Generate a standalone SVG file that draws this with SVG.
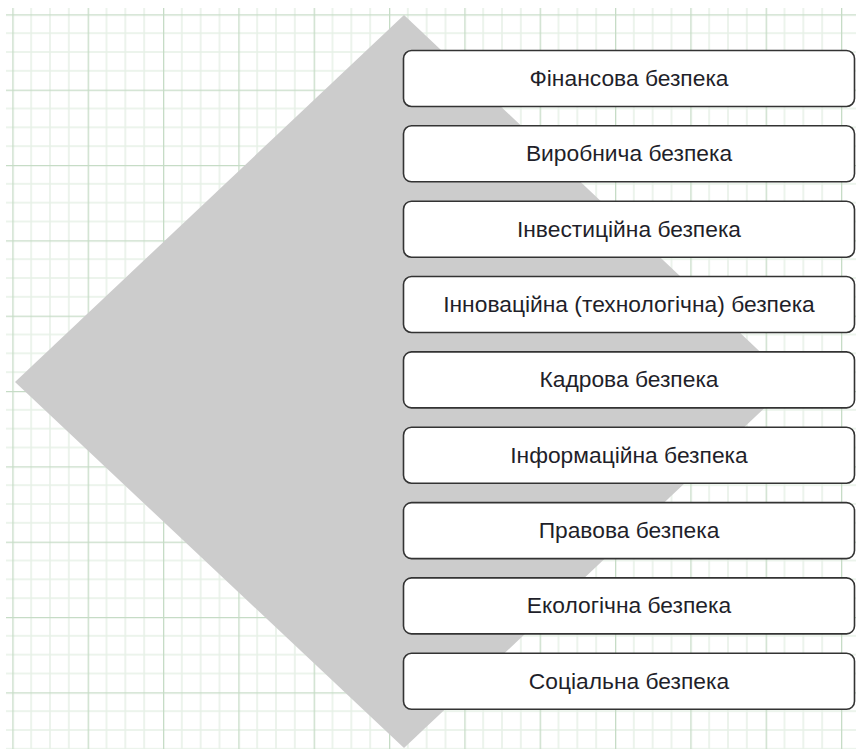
<svg xmlns="http://www.w3.org/2000/svg" width="856" height="749" viewBox="0 0 856 749">
  <style>
    .box rect { fill: #ffffff; stroke: #333333; stroke-width: 1.6; }
    .box text { font-family: "Liberation Sans", Arial, sans-serif; font-size: 22.8px; fill: #1f1f2a; text-anchor: middle; }
    .minor { stroke: #e6f0e6; stroke-width: 1.5; }
    .major { stroke: #c6dcc6; stroke-width: 1.6; }
  </style>
  <defs>
    <pattern id="grid" patternUnits="userSpaceOnUse" x="12.33" y="14.33" width="75.333" height="75.333">
      <line class="minor" x1="18.83" y1="0" x2="18.83" y2="75.333"/>
      <line class="minor" x1="37.67" y1="0" x2="37.67" y2="75.333"/>
      <line class="minor" x1="56.5" y1="0" x2="56.5" y2="75.333"/>
      <line class="minor" x1="0" y1="18.83" x2="75.333" y2="18.83"/>
      <line class="minor" x1="0" y1="37.67" x2="75.333" y2="37.67"/>
      <line class="minor" x1="0" y1="56.5" x2="75.333" y2="56.5"/>
      <line class="major" x1="0.5" y1="0" x2="0.5" y2="75.333"/>
      <line class="major" x1="0" y1="0.5" x2="75.333" y2="0.5"/>
    </pattern>
  </defs>
  <rect x="0" y="0" width="856" height="749" fill="#ffffff"/>
  <rect x="6" y="8" width="850" height="741" fill="url(#grid)"/>
  <polygon id="diamond" points="404,15 792,382 404,748 15,382" fill="#cccccc"/>
  <g id="connectors"></g>
  <g id="n1" class="box"><rect x="403.5" y="50.5" width="451" height="56" rx="8"/><text x="629" y="86">Фінансова безпека</text></g>
  <g id="n2" class="box"><rect x="403.5" y="125.8" width="451" height="56" rx="8"/><text x="629" y="161.3">Виробнича безпека</text></g>
  <g id="n3" class="box"><rect x="403.5" y="201.2" width="451" height="56" rx="8"/><text x="629" y="236.7">Інвестиційна безпека</text></g>
  <g id="n4" class="box"><rect x="403.5" y="276.5" width="451" height="56" rx="8"/><text x="629" y="312">Інноваційна (технологічна) безпека</text></g>
  <g id="n5" class="box"><rect x="403.5" y="351.9" width="451" height="56" rx="8"/><text x="629" y="387.4">Кадрова безпека</text></g>
  <g id="n6" class="box"><rect x="403.5" y="427.2" width="451" height="56" rx="8"/><text x="629" y="462.7">Інформаційна безпека</text></g>
  <g id="n7" class="box"><rect x="403.5" y="502.6" width="451" height="56" rx="8"/><text x="629" y="538.1">Правова безпека</text></g>
  <g id="n8" class="box"><rect x="403.5" y="577.9" width="451" height="56" rx="8"/><text x="629" y="613.4">Екологічна безпека</text></g>
  <g id="n9" class="box"><rect x="403.5" y="653.3" width="451" height="56" rx="8"/><text x="629" y="688.8">Соціальна безпека</text></g>
</svg>
